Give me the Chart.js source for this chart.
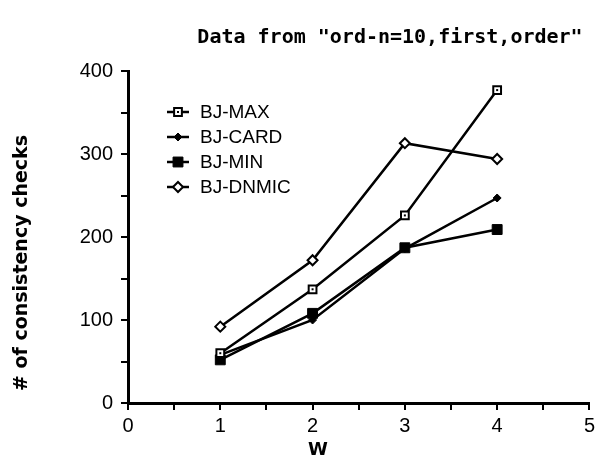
<!DOCTYPE html>
<html><head><meta charset="utf-8">
<script src="https://cdn.jsdelivr.net/npm/chart.js@4"></script>
<style>html,body{margin:0;padding:0;background:#fff}#wrap{width:599px;height:461px;position:relative}</style>
</head><body><div id="wrap"><canvas id="c"></canvas></div>
<script>
const chartTitle = 'Data from "ord-n=10,first,order"';
const xTitle = 'W';
const yTitle = '# of consistency checks';
const wValues = [1, 2, 3, 4];
const seriesNames = ['BJ-MAX', 'BJ-CARD', 'BJ-MIN', 'BJ-DNMIC'];
const bjMax = [60, 137, 226, 377];
const bjCard = [58, 100, 186, 247];
const bjMin = [52, 108, 187, 209];
const bjDnmic = [92, 172, 313, 294];
const yTicks = [0, 100, 200, 300, 400];
const xTicks = [0, 1, 2, 3, 4, 5];

const pts = arr => arr.map((v, i) => ({x: wValues[i], y: v}));
const styles = [
  {pointStyle: 'rect', pointRadius: 5.5, pointBackgroundColor: '#fff', pointBorderWidth: 2},
  {pointStyle: 'rectRot', pointRadius: 4, pointBackgroundColor: '#000', pointBorderWidth: 1},
  {pointStyle: 'rect', pointRadius: 7, pointBackgroundColor: '#000', pointBorderWidth: 1},
  {pointStyle: 'rectRot', pointRadius: 5, pointBackgroundColor: '#fff', pointBorderWidth: 2}
];
const seriesData = [bjMax, bjCard, bjMin, bjDnmic];
const datasets = seriesNames.map((n, i) => Object.assign({
  label: n, data: pts(seriesData[i]), borderColor: '#000', borderWidth: 2.5,
  pointBorderColor: '#000', tension: 0, fill: false
}, styles[i]));

const decor = {
  id: 'decor',
  afterDatasetsDraw(chart) {
    // center dot inside the open squares of BJ-MAX
    const ctx = chart.ctx;
    ctx.save();
    ctx.fillStyle = '#000';
    chart.getDatasetMeta(0).data.forEach(p => { ctx.fillRect(p.x - 1, p.y - 1, 2, 2); });
    ctx.restore();
  },
  afterDraw(chart) {
    const ctx = chart.ctx;
    ctx.save();
    ctx.fillStyle = '#000';
    ctx.textAlign = 'center'; ctx.textBaseline = 'middle';
    ctx.font = 'bold 20px "DejaVu Sans Mono"';
    ctx.fillText(chartTitle, 390, 38);
    ctx.font = 'bold 18px "DejaVu Sans"';
    ctx.fillText(xTitle, 318, 450);
    ctx.save();
    ctx.translate(22, 263); ctx.rotate(-Math.PI / 2);
    ctx.font = 'bold 19px "DejaVu Sans"';
    ctx.fillText(yTitle, 0, 0);
    ctx.restore();
    // legend
    chart.data.datasets.forEach((ds, i) => {
      const y = 112 + 25 * i;
      ctx.strokeStyle = '#000'; ctx.lineWidth = 2.5;
      ctx.beginPath(); ctx.moveTo(167, y); ctx.lineTo(189, y); ctx.stroke();
      ctx.fillStyle = ds.pointBackgroundColor; ctx.strokeStyle = '#000'; ctx.lineWidth = ds.pointBorderWidth;
      Chart.helpers.drawPoint(ctx, {pointStyle: ds.pointStyle, radius: ds.pointRadius, rotation: 0, borderWidth: ds.pointBorderWidth}, 178, y);
      if (i === 0) { ctx.fillStyle = '#000'; ctx.fillRect(177, y - 1, 2, 2); }
      ctx.fillStyle = '#000';
      ctx.textAlign = 'left';
      ctx.font = '19px "Liberation Sans Narrow", "Liberation Sans"';
      ctx.fillText(ds.label, 200, y + 1);
    });
    ctx.restore();
  }
};

new Chart(document.getElementById('c'), {
  type: 'line',
  data: {datasets},
  options: {
    responsive: true, maintainAspectRatio: false, animation: false,
    layout: {padding: {top: 71, right: 7, left: 0, bottom: 0}},
    plugins: {legend: {display: false}, tooltip: {enabled: false}, title: {display: false}},
    scales: {
      x: {
        type: 'linear', min: 0, max: 5,
        ticks: {stepSize: 0.5, autoSkip: false, maxRotation: 0, color: '#000', padding: 4,
          font: {family: '"Liberation Sans"', size: 20},
          callback: v => xTicks.includes(v) ? String(v) : ''},
        grid: {drawOnChartArea: false, drawTicks: true, tickLength: 7, color: '#000', lineWidth: 2},
        border: {display: true, color: '#000', width: 3},
        afterFit: s => { s.height = 58; }
      },
      y: {
        min: 0, max: 400,
        ticks: {stepSize: 50, autoSkip: false, color: '#000', padding: 8,
          font: {family: '"Liberation Sans"', size: 20},
          callback: v => yTicks.includes(v) ? String(v) : ''},
        grid: {drawOnChartArea: false, drawTicks: true, tickLength: 7, color: '#000', lineWidth: 2},
        border: {display: true, color: '#000', width: 3},
        afterFit: s => { s.width = 128; }
      }
    }
  },
  plugins: [decor]
});
</script>
</body></html>
